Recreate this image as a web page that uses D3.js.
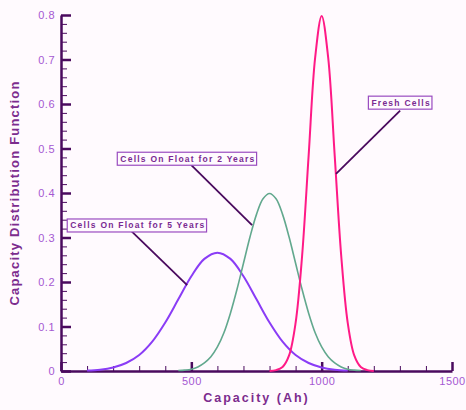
<!DOCTYPE html>
<html>
<head>
<meta charset="utf-8">
<script src="https://cdn.jsdelivr.net/npm/d3@7"></script>
<style>
  body { margin: 0; background: #fffafe; }
  svg text { font-family: "Liberation Sans", Arial, sans-serif; }
</style>
</head>
<body>
<svg id="chart" width="466" height="410"></svg>
<script>
// values
const freshCap = [800, 825, 850, 875, 900, 925, 950, 975, 1000, 1025, 1050, 1075, 1100, 1125, 1150, 1175, 1200];
const freshPdf = [0.000, 0.002, 0.009, 0.035, 0.108, 0.259, 0.484, 0.704, 0.798, 0.704, 0.484, 0.259, 0.108, 0.035, 0.009, 0.002, 0.000];

const float2Cap = [450, 475, 500, 525, 550, 575, 600, 625, 650, 675, 700, 725, 750, 775, 800,
                   825, 850, 875, 900, 925, 950, 975, 1000, 1025, 1050, 1075, 1100, 1125, 1150];
const float2Pdf = [0.001, 0.002, 0.004, 0.009, 0.018, 0.032, 0.054, 0.086, 0.130, 0.183, 0.242, 0.301, 0.352, 0.387, 0.399,
                   0.387, 0.352, 0.301, 0.242, 0.183, 0.130, 0.086, 0.054, 0.032, 0.018, 0.009, 0.004, 0.002, 0.001];

const float5Cap = [100, 150, 200, 250, 300, 350, 400, 450, 500, 550, 600, 650, 700, 750, 800, 850, 900, 950, 1000, 1050, 1100];
const float5Pdf = [0.001, 0.003, 0.008, 0.018, 0.036, 0.066, 0.109, 0.161, 0.213, 0.252, 0.266, 0.252, 0.213, 0.161, 0.109, 0.066, 0.036, 0.018, 0.008, 0.003, 0.001];

const xTicks = [0, 500, 1000, 1500];
const yTicks = [0, 0.1, 0.2, 0.3, 0.4, 0.5, 0.6, 0.7, 0.8];

// label boxes: centre and leader line, in data units
const notes = [
  { name: "Fresh Cells", cx: 1305, cy: 0.603, from: [1301, 0.585], to: [1055, 0.443] },
  { name: "Cells On Float for 2 Years", cx: 487, cy: 0.477, from: [499, 0.463], to: [733, 0.328] },
  { name: "Cells On Float for 5 Years", cx: 295, cy: 0.327, from: [269, 0.315], to: [484, 0.193] }
];

const margin = { top: 15, right: 14, bottom: 39, left: 61 };
const width = 466, height = 410;

const svg = d3.select("#chart");
const axisColor = "#4a0a5e";
const tickText = "#a558d2";
const titleColor = "#7c2c8e";

const x = d3.scaleLinear().domain([0, 1500]).range([margin.left, width - margin.right]);
const y = d3.scaleLinear().domain([0, 0.8]).range([height - margin.bottom, margin.top]);

// minor ticks first
svg.append("g")
  .attr("transform", `translate(0,${y(0)})`)
  .call(d3.axisBottom(x).tickValues(d3.range(0, 1501, 100)).tickSize(-5).tickFormat(""))
  .call(g => g.select(".domain").remove())
  .call(g => g.selectAll("line").attr("stroke", axisColor).attr("stroke-width", 1));

svg.append("g")
  .attr("transform", `translate(${x(0)},0)`)
  .call(d3.axisLeft(y).tickValues(d3.range(0, 41).map(i => i * 0.02)).tickSize(-6).tickFormat(""))
  .call(g => g.select(".domain").remove())
  .call(g => g.selectAll("line").attr("stroke", axisColor).attr("stroke-width", 1));

// major ticks + axis lines
const xAxis = svg.append("g")
  .attr("transform", `translate(0,${y(0)})`)
  .call(d3.axisBottom(x).tickValues(xTicks).tickSizeInner(-9).tickSizeOuter(0).tickPadding(6).tickFormat(d3.format("d")));
xAxis.select(".domain").attr("stroke", axisColor).attr("stroke-width", 2.5);
xAxis.selectAll("line").attr("stroke", axisColor).attr("stroke-width", 2.5);
xAxis.selectAll("text").attr("fill", tickText).style("font-size", "11px").style("letter-spacing", "0.5px");

const yAxis = svg.append("g")
  .attr("transform", `translate(${x(0)},0)`)
  .call(d3.axisLeft(y).tickValues(yTicks).tickSizeInner(-10).tickSizeOuter(0).tickPadding(6)
    .tickFormat(d => d === 0 ? "0" : d3.format(".1f")(d)));
yAxis.select(".domain").attr("stroke", axisColor).attr("stroke-width", 2.5);
yAxis.selectAll("line").attr("stroke", axisColor).attr("stroke-width", 2.5);
yAxis.selectAll("text").attr("fill", tickText).style("font-size", "11px").style("letter-spacing", "0.5px");

// curves
const line = d3.line()
  .x(d => x(d[0]))
  .y(d => y(d[1]))
  .curve(d3.curveCatmullRom);

const series = [
  { cap: float5Cap, pdf: float5Pdf, color: "#8a3cf6", w: 2 },
  { cap: float2Cap, pdf: float2Pdf, color: "#62a88e", w: 1.6 },
  { cap: freshCap, pdf: freshPdf, color: "#ff1a86", w: 2 }
];

svg.append("g")
  .selectAll("path")
  .data(series)
  .join("path")
  .attr("fill", "none")
  .attr("stroke", d => d.color)
  .attr("stroke-width", d => d.w)
  .attr("d", d => line(d.cap.map((c, i) => [c, d.pdf[i]])));

// annotations
const ann = svg.append("g");
notes.forEach(n => {
  ann.append("line")
    .attr("x1", x(n.from[0])).attr("y1", y(n.from[1]))
    .attr("x2", x(n.to[0])).attr("y2", y(n.to[1]))
    .attr("stroke", axisColor).attr("stroke-width", 1.8);
  const g = ann.append("g");
  const rect = g.append("rect");
  const t = g.append("text")
    .attr("x", x(n.cx)).attr("y", y(n.cy))
    .attr("text-anchor", "middle")
    .attr("dy", "0.35em")
    .attr("fill", "#7a2a92")
    .style("font-size", "8.5px")
    .style("font-weight", "bold")
    .style("letter-spacing", "1.25px")
    .text(n.name);
  const b = t.node().getBBox();
  rect.attr("x", b.x - 3).attr("y", y(n.cy) - 6.5)
    .attr("width", b.width + 4).attr("height", 13)
    .attr("fill", "#fffafe").attr("stroke", "#9a4cc0").attr("stroke-width", 1.2);
});

// axis titles
svg.append("text")
  .attr("x", (x(0) + x(1500)) / 2)
  .attr("y", 402)
  .attr("text-anchor", "middle")
  .attr("fill", titleColor)
  .style("font-size", "12.5px")
  .style("font-weight", "bold")
  .style("letter-spacing", "2px")
  .text("Capacity (Ah)");

svg.append("text")
  .attr("transform", `translate(19,${(y(0) + y(0.8)) / 2}) rotate(-90)`)
  .attr("text-anchor", "middle")
  .attr("fill", titleColor)
  .style("font-size", "13px")
  .style("font-weight", "bold")
  .style("letter-spacing", "1.2px")
  .text("Capacity Distribution Function");
</script>
</body>
</html>
